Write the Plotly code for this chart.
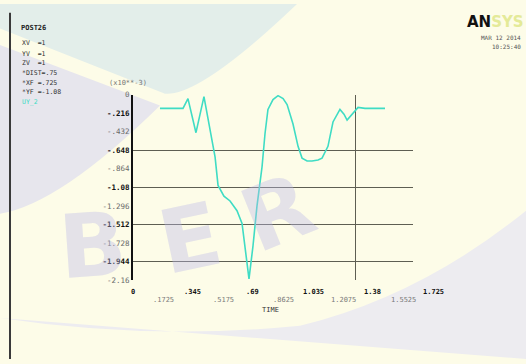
import plotly.graph_objects as go

# ---- data -------------------------------------------------------------
time_vals = [0.155, 0.2875, 0.316, 0.362, 0.408, 0.443, 0.472, 0.489, 0.523,
             0.558, 0.598, 0.627, 0.644, 0.667, 0.690, 0.713, 0.742, 0.759,
             0.776, 0.805, 0.834, 0.863, 0.886, 0.920, 0.949, 0.972, 1.001,
             1.029, 1.064, 1.087, 1.121, 1.150, 1.190, 1.213, 1.231, 1.265,
             1.294, 1.334, 1.449]
uy_vals = [-0.159, -0.159, -0.045, -0.443, -0.023, -0.387, -0.728, -1.057,
           -1.182, -1.239, -1.352, -1.500, -1.762, -2.148, -1.762, -1.296,
           -0.841, -0.455, -0.171, -0.057, -0.011, -0.045, -0.114, -0.341,
           -0.602, -0.739, -0.773, -0.773, -0.762, -0.739, -0.602, -0.318,
           -0.171, -0.227, -0.296, -0.216, -0.148, -0.159, -0.159]

y_ticks = [0, -0.216, -0.432, -0.648, -0.864, -1.08, -1.296, -1.512,
           -1.728, -1.944, -2.16]
y_labels = ["0", "-.216", "-.432", "-.648", "-.864", "-1.08", "-1.296",
            "-1.512", "-1.728", "-1.944", "-2.16"]
y_grid = [-0.648, -1.08, -1.512, -1.944]

x_ticks = [0, 0.1725, 0.345, 0.5175, 0.69, 0.8625, 1.035, 1.2075, 1.38,
           1.5525, 1.725]
x_labels = ["0", ".1725", ".345", ".5175", ".69", ".8625", "1.035",
            "1.2075", "1.38", "1.5525", "1.725"]
x_grid = [1.282, 1.61]

legend_lines = ["XV  =1", "YV  =1", "ZV  =1", "*DIST=.75", "*XF =.725",
                "*YF =-1.08"]
curve_name = "UY_2"
watermark = ["B", "E", "R"]

W, H = 526, 364
BG = "#fdfce8"
CURVE = "#3fdcc4"
MONO = "DejaVu Sans Mono"

# plot area in pixels
X0, X1, Y0, Y1 = 133, 413, 93, 283
XMAX = 1.61


def px(x):
    return x / W


def py(y):
    return 1 - y / H


def xdata_to_px(v):
    return X0 + v / XMAX * (X1 - X0)


def path_px(spec):
    """Build an SVG path in paper units from pixel-space commands."""
    out = []
    for cmd, pts in spec:
        out.append(cmd + " ".join("%.5f,%.5f" % (px(a), py(b)) for a, b in pts))
    return " ".join(out) + " Z"


fig = go.Figure()
fig.add_trace(go.Scatter(x=time_vals, y=uy_vals, mode="lines",
                         line=dict(color=CURVE, width=1.6), showlegend=False,
                         hoverinfo="skip"))

fig.update_layout(
    width=W, height=H, margin=dict(l=0, r=0, t=0, b=0),
    paper_bgcolor=BG, plot_bgcolor="rgba(0,0,0,0)",
    showlegend=False,
    xaxis=dict(domain=[px(X0), px(X1)], range=[0, XMAX],
               showticklabels=False, ticks="", zeroline=False,
               tickmode="array", tickvals=x_grid, showgrid=True,
               gridcolor="#5e5e52", gridwidth=1, showline=False),
    yaxis=dict(domain=[py(Y1), py(Y0)], range=[-2.16, 0],
               tickmode="array", tickvals=y_ticks,
               ticktext=[("<b>%s</b>" % t) if i % 2 else
                         "<span style='color:#6a6a6a'>%s</span>" % t
                         for i, t in enumerate(y_labels)],
               tickfont=dict(family=MONO, size=7.5, color="#111"),
               showgrid=False, zeroline=False, ticks="",
               showline=True, linecolor="#111", linewidth=2,
               minor=dict(tickmode="array", tickvals=y_grid, showgrid=True,
                          gridcolor="#5e5e52", gridwidth=1, ticks="")),
)


def label(x, y, text, size, color, xanchor="center", family=MONO, **kw):
    return dict(x=px(x), y=py(y), xref="paper", yref="paper", text=text,
                showarrow=False, xanchor=xanchor, yanchor="middle",
                font=dict(family=family, size=size, color=color), **kw)


ann = []
# faint embossed lettering across the sheet
for t, (wx, wy, ang) in zip(watermark, [(92, 248, -4), (190, 240, -12),
                                        (278, 214, -22)]):
    ann.append(label(wx, wy, "<b>%s</b>" % t, 88, "rgba(186,184,232,0.38)",
                     family="DejaVu Sans", textangle=ang))

# staggered time labels under the plot
for i, (v, t) in enumerate(zip(x_ticks, x_labels)):
    even = i % 2 == 0
    ann.append(label(xdata_to_px(v), 295 if even else 303,
                     ("<b>%s</b>" % t) if even else t, 7,
                     "#111" if even else "#7a7a7a"))
ann.append(label(270, 314, "TIME", 7, "#333"))
ann.append(label(128, 81, "(x10**-3)", 7, "#777"))

# POST26 info block
ann.append(label(19, 25, "<b>POST26</b>", 7, "#222", xanchor="left"))
for t, yy in zip(legend_lines, [40, 51, 61, 71, 81, 90]):
    ann.append(label(20, yy, t, 6.5, "#333", xanchor="left"))
ann.append(label(20, 100, curve_name, 6.5, CURVE, xanchor="left"))

# logo and time stamp
ann.append(label(465, 18, "<b>AN<span style='color:#e4ea98'>SYS</span></b>",
                 15, "#111", xanchor="left", family="DejaVu Sans"))
ann.append(label(523, 34, "MAR 12 2014", 6, "#555", xanchor="right"))
ann.append(label(523, 44, "10:25:40", 6, "#555", xanchor="right"))
fig.update_layout(annotations=ann)

# soft background tints
tints = [
    ([("M", [(0, 0)]), ("L", [(297, 0), (237, 83)]),
      ("Q", [(200, 95), (165, 92)]), ("L", [(0, 25)])], "#e3eeea"),
    ([("M", [(0, 42)]), ("L", [(160, 104), (132, 112), (132, 200)]),
      ("Q", [(60, 205), (0, 215)])], "#e7e6ed"),
    ([("M", [(0, 322)]), ("Q", [(150, 345), (300, 330)]),
      ("Q", [(420, 300), (526, 212)]), ("L", [(526, 364), (0, 364)])],
     "#edecf0"),
    ([("M", [(330, 364)]), ("L", [(526, 248), (526, 275), (372, 364)])],
     "#f9f9f7"),
    ([("M", [(392, 300)]), ("L", [(526, 190), (526, 208), (410, 305)])],
     "#f1f1ee"),
]
for spec, col in tints:
    fig.add_shape(type="path", xref="paper", yref="paper", path=path_px(spec),
                  fillcolor=col, line=dict(width=0), layer="below")

# left frame rule
fig.add_shape(type="line", xref="paper", yref="paper",
              x0=px(10), x1=px(10), y0=py(9), y1=0,
              line=dict(color="#3a3a3a", width=2))

fig.write_html("out.html")
